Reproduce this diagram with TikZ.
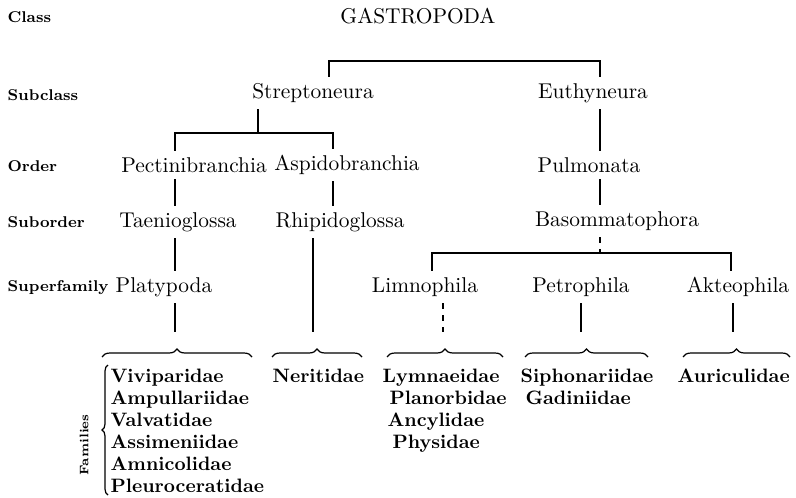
\documentclass[tikz,border=0pt]{standalone}
\usetikzlibrary{decorations.pathreplacing}
\begin{document}
\begin{tikzpicture}[x=0.5pt,y=-0.5pt,line width=0.6pt,
  taxon/.style={inner sep=3pt,font=\fontsize{10.7}{12}\selectfont},
  rank/.style={anchor=west,inner sep=0pt,font=\bfseries\fontsize{7.8}{9}\selectfont},
  fam/.style={anchor=north west,inner sep=0pt,align=left,font=\bfseries\fontsize{9.7}{11}\selectfont},
  brc/.style={decorate,decoration={brace,amplitude=4pt}}]
 \useasboundingbox (0,0) rectangle (796,497);
 \node[rank] (rcl) at (7,17) {Class}; \node[rank] (rsc) at (7,95) {Subclass}; \node[rank] (ror) at (7,166) {Order};
 \node[rank] (rso) at (7,222) {Suborder}; \node[rank] (rsf) at (7,288) {Superfamily};
 \node[rank,anchor=center,rotate=90,font=\bfseries\fontsize{6.2}{7}\selectfont] (rfa) at (84,445) {Families};
 \node[taxon] (gastro) at (418,16) {GASTROPODA};
 \node[taxon] (strep) at (313,93) {Streptoneura}; \node[taxon] (euthy) at (593,93) {Euthyneura};
 \node[taxon] (pect) at (194,165) {Pectinibranchia}; \node[taxon] (aspi) at (347,165) {Aspidobranchia}; \node[taxon] (pulm) at (589,165) {Pulmonata};
 \node[taxon] (taen) at (178,222) {Taenioglossa}; \node[taxon] (rhip) at (340,222) {Rhipidoglossa}; \node[taxon] (basom) at (617,221) {Basommatophora};
 \node[taxon] (platy) at (164,287) {Platypoda}; \node[taxon] (limno) at (425,287) {Limnophila};
 \node[taxon] (petro) at (581,287) {Petrophila}; \node[taxon] (akteo) at (738,287) {Akteophila};
 \node[fam] (fplaty) at (110,368) {Viviparidae\\Ampullariidae\\Valvatidae\\Assimeniidae\\Amnicolidae\\Pleuroceratidae};
 \node[fam] (fnerit) at (272,368) {Neritidae};
 \node[fam] (flimno) at (382,368) {Lymnaeidae\\\hspace{3.5pt}Planorbidae\\\hspace{2.5pt}Ancylidae\\\hspace{5pt}Physidae};
 \node[fam] (fpetro) at (520,368) {Siphonariidae\\\hspace{2.5pt}Gadiniidae};
 \node[fam] (fakteo) at (677,368) {Auriculidae};
 \coordinate (ca) at (329,61); \coordinate (cb) at (600,61);
 \draw (ca |- strep.north) -- (ca) -- (cb) -- (cb |- euthy.north);
 \draw (cb |- euthy.south) -- (cb |- pulm.north); \draw (cb |- pulm.south) -- (cb |- basom.north);
 \coordinate (oa) at (175,133); \coordinate (ob) at (333,133); \coordinate (oc) at (258,133);
 \draw (oc |- strep.south) -- (oc); \draw (oa |- pect.north) -- (oa) -- (ob) -- (ob |- aspi.north);
 \draw (oa |- pect.south) -- (oa |- taen.north); \draw (ob |- aspi.south) -- (ob |- rhip.north);
 \coordinate (sm) at (600,253); \coordinate (sl) at (432,253); \coordinate (sr) at (731,253);
 \draw[dashed] (sm |- basom.south) -- (sm); \draw (sl |- limno.north) -- (sl) -- (sr) -- (sr |- akteo.north);
 \coordinate (tp) at (175,332); \coordinate (tn) at (313,332); \coordinate (tl) at (443,332);
 \coordinate (te) at (581,332); \coordinate (ta) at (733,332);
 \draw (tp |- taen.south) -- (tp |- platy.north); \draw (tp |- platy.south) -- (tp);
 \draw (tn |- rhip.south) -- (tn); \draw[dashed] (tl |- limno.south) -- (tl);
 \draw (te |- petro.south) -- (te); \draw (ta |- akteo.south) -- (ta);
 \draw[brc] (102,357) -- (252,357); \draw[brc] (272,357) -- (362,357); \draw[brc] (387,357) -- (503,357);
 \draw[brc] (525,357) -- (648,357); \draw[brc] (683,357) -- (790,357);
 \draw[decorate,decoration={brace,amplitude=3pt}] (108,495) -- (108,365);
\end{tikzpicture}
\end{document}
